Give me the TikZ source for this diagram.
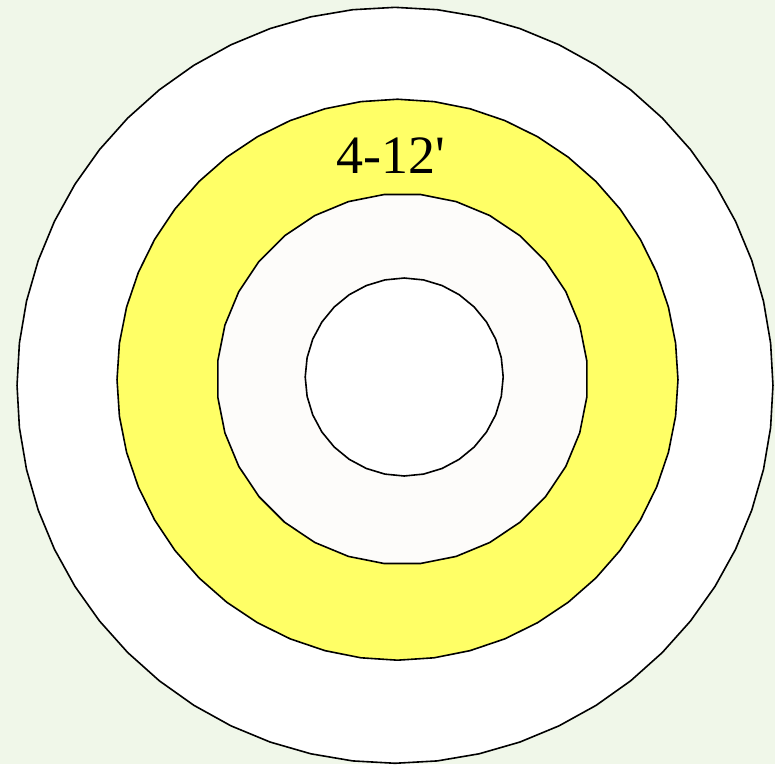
\documentclass[tikz,border=0pt]{standalone}
\usepackage{fontspec}
\newfontfamily\ringfont{Liberation Serif}
\usetikzlibrary{shapes.geometric}
\definecolor{bggreen}{HTML}{F0F7E9}
\definecolor{ringyellow}{HTML}{FFFF66}
\definecolor{offwhite}{HTML}{FDFCFA}
\begin{document}
\begin{tikzpicture}[
    x=1pt, y=-1pt,
    myring/.style={regular polygon, draw=black, line width=1.6pt, inner sep=0pt, outer sep=0pt},
    mylabel/.style={font=\ringfont\fontsize{54}{60}\selectfont, anchor=base, inner sep=0pt},
]
\fill[bggreen] (0,0) rectangle (775,764);
\useasboundingbox (0,0) rectangle (775,764);

\node[myring, regular polygon sides=56, rotate=3.214, minimum size=756pt, fill=white] (outer) at (395,385.3) {};
\node[myring, regular polygon sides=48, rotate=3.75, minimum size=561pt, fill=ringyellow] (band) at (397.5,379.7) {};
\node[myring, regular polygon sides=32, minimum size=370.8pt, fill=offwhite] (mid) at (402.3,379) {};
\node[myring, regular polygon sides=32, rotate=5.625, minimum size=198pt, fill=white] (inner) at (404.2,377) {};

\node[mylabel] (range) at (390.5,173) {4-12\textquotesingle};
\end{tikzpicture}
\end{document}
